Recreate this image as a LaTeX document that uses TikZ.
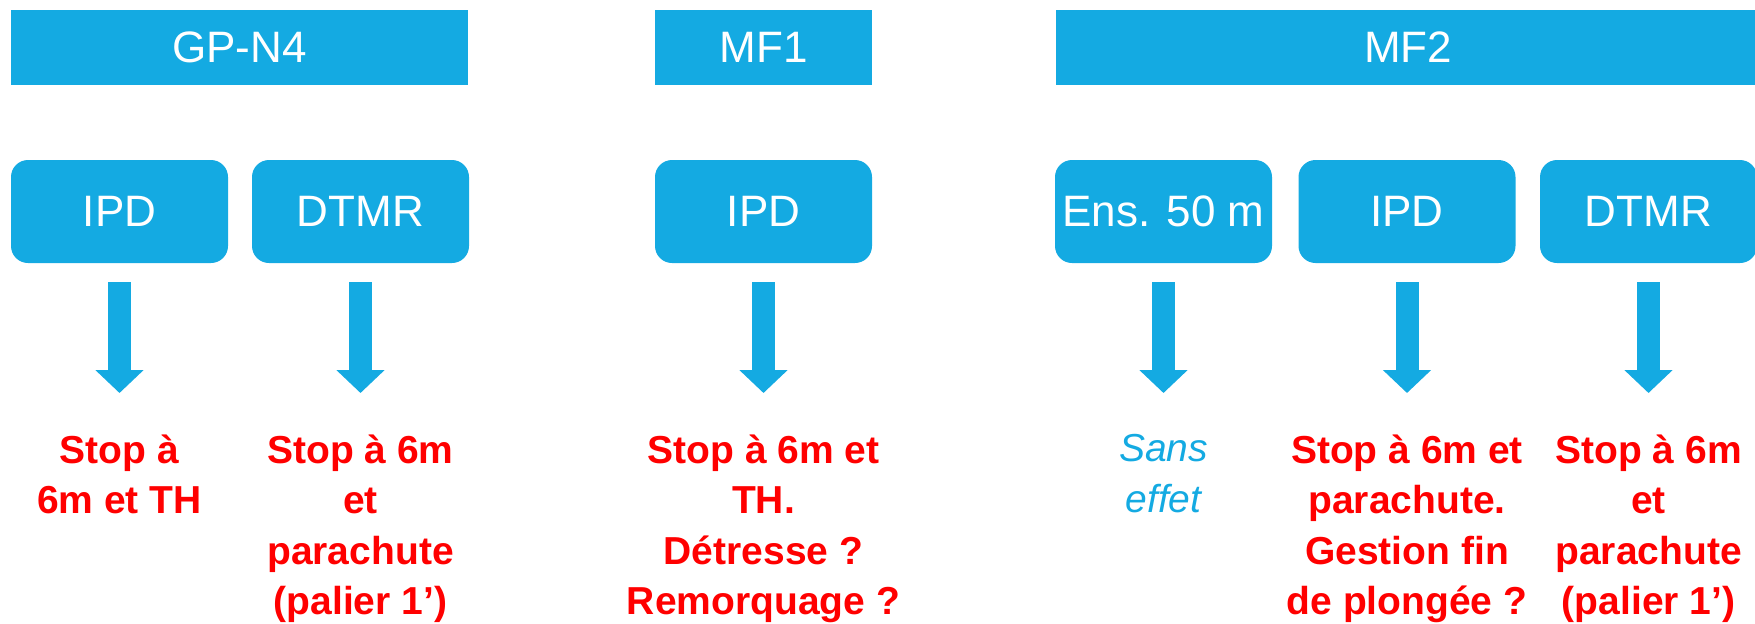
\documentclass[tikz,border=0pt]{standalone}
\usepackage{fontspec}
\setmainfont{Liberation Sans}
\usetikzlibrary{arrows.meta}
\definecolor{boxblue}{HTML}{14AAE2}
\definecolor{stopred}{HTML}{FF0000}

\begin{document}
\begin{tikzpicture}[x=0.5pt,y=-0.5pt,
    headbar/.style={fill=boxblue,text=white,minimum height=37.5pt,inner sep=0pt,
      font=\fontsize{22}{26}\selectfont},
    itembox/.style={fill=boxblue,text=white,rounded corners=8.5pt,minimum width=108.5pt,
      minimum height=51.5pt,inner sep=0pt,font=\fontsize{22}{26}\selectfont},
    outcome/.style={anchor=north,align=center,inner sep=0pt,text=stopred,
      font=\fontsize{19.5}{25.3}\selectfont\bfseries},
    flow/.style={draw=boxblue,line width=11.5pt,-{Triangle[width=23.5pt,length=11.5pt]},
      shorten <=9.5pt,shorten >=20.5pt}]
  \useasboundingbox (0,0) rectangle (1755,623);
  \def\rowbox{211.5}
  \def\rowres{434}
  % levels
  \node[headbar,minimum width=228.5pt] (gpn) at (239.5,47.5) {GP-N4};
  \node[headbar,minimum width=108.5pt] (mfa) at (763.5,47.5) {MF1};
  \node[headbar,minimum width=352pt]   (mfb) at (1408,47.5) {MF2};
  % incidents
  \node[itembox] (ipdA)  at (119.5,\rowbox)  {IPD};
  \node[itembox] (dtmrA) at (360.5,\rowbox)  {DTMR};
  \node[itembox] (ipdB)  at (763.5,\rowbox)  {IPD};
  \node[itembox] (ens)   at (1163.5,\rowbox) {Ens. 50 m};
  \node[itembox] (ipdC)  at (1407,\rowbox)   {IPD};
  \node[itembox] (dtmrC) at (1648.5,\rowbox) {DTMR};
  % what to do
  \node[outcome] (resA) at (119.5,\rowres)  {Stop à\\6m et TH};
  \node[outcome] (resB) at (360.5,\rowres)  {Stop à 6m\\et\\parachute\\(palier 1’)};
  \node[outcome] (resC) at (763.5,\rowres)  {Stop à 6m et\\TH.\\Détresse ?\\Remorquage ?};
  \node[outcome,text=boxblue,font=\fontsize{19.5}{25.3}\selectfont\itshape] (resD)
    at (1163.5,\rowres) {Sans\\effet};
  \node[outcome] (resE) at (1407,\rowres)   {Stop à 6m et\\parachute.\\Gestion fin\\de plongée ?};
  \node[outcome] (resF) at (1648.5,\rowres) {Stop à 6m\\et\\parachute\\(palier 1’)};
  \foreach \b/\r in {ipdA/resA,dtmrA/resB,ipdB/resC,ens/resD,ipdC/resE,dtmrC/resF} {
    \draw[flow] (\b.south) -- (\r.north);
  }
\end{tikzpicture}
\end{document}
